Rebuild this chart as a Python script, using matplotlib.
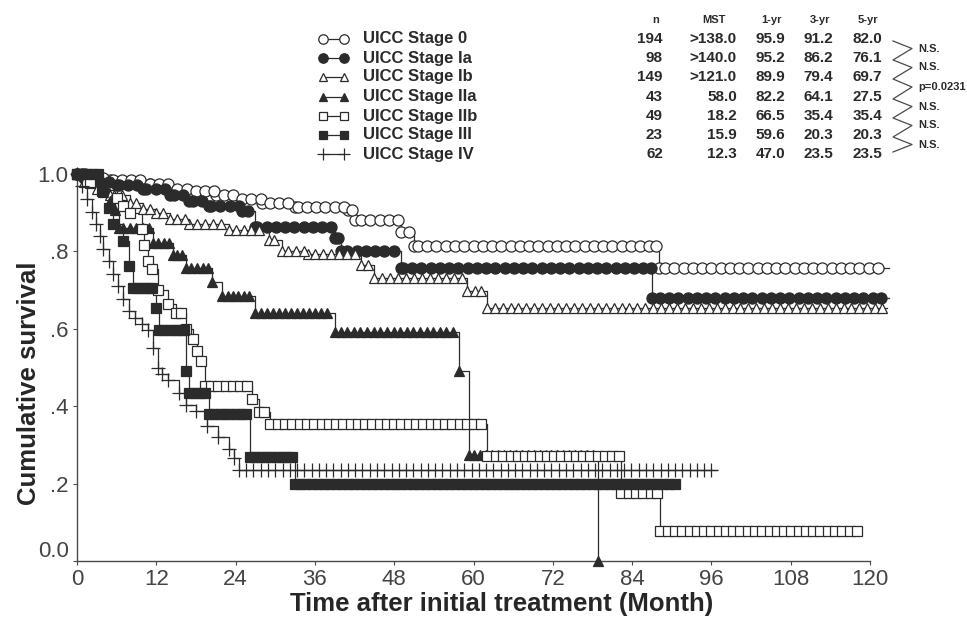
import numpy as np
import matplotlib
matplotlib.use('Agg')
import matplotlib.pyplot as plt
from matplotlib.transforms import ScaledTranslation

plt.rcParams['font.family'] = ['Liberation Sans', 'DejaVu Sans']

# ---- data (months, survival) ----
stages = ['UICC Stage 0', 'UICC Stage Ia', 'UICC Stage Ib', 'UICC Stage IIa',
          'UICC Stage IIb', 'UICC Stage III', 'UICC Stage IV']
n_pat = ['194', '98', '149', '43', '49', '23', '62']
mst = ['>138.0', '>140.0', '>121.0', '58.0', '18.2', '15.9', '12.3']
yr1 = ['95.9', '95.2', '89.9', '82.2', '66.5', '59.6', '47.0']
yr3 = ['91.2', '86.2', '79.4', '64.1', '35.4', '20.3', '23.5']
yr5 = ['82.0', '76.1', '69.7', '27.5', '35.4', '20.3', '23.5']
pvals = ['N.S.', 'N.S.', 'p=0.0231', 'N.S.', 'N.S.', 'N.S.']

# step times / survival after each step, last follow-up time, censor marks
t0 = [0, 2, 5, 11, 14, 17, 21, 24, 28, 33, 41, 42, 49, 51, 88]
s0 = [1.0, 0.99, 0.984, 0.975, 0.962, 0.955, 0.945, 0.935, 0.925, 0.914, 0.906, 0.88, 0.85, 0.815, 0.757]
end0 = 122.9
c0 = [1.2, 2.6, 4.0, 5.4, 6.8, 8.2, 9.6, 11.0, 12.4, 13.8, 15.2, 16.6, 18.0, 19.4, 20.8, 22.2, 23.6,
      25.0, 26.4, 27.8, 29.2, 30.6, 32.0, 33.4, 34.8, 36.2, 37.6, 39.0, 40.4, 41.6, 43.0, 44.4, 45.8,
      47.2, 48.5, 50.2, 51.6, 53.0, 54.4, 55.8, 57.2, 58.6, 60.0, 61.4, 62.8, 64.2, 65.6, 67.0, 68.4,
      69.8, 71.2, 72.6, 74.0, 75.4, 76.8, 78.2, 79.6, 81.0, 82.4, 83.8, 85.2, 86.6, 87.6, 89.0, 90.4,
      91.8, 93.2, 94.6, 96.0, 97.4, 98.8, 100.2, 101.6, 103.0, 104.4, 105.8, 107.2, 108.6, 110.0,
      111.4, 112.8, 114.2, 115.6, 117.0, 118.4, 119.8, 121.2]

t1 = [0, 1, 3, 6, 10, 14, 17, 20, 25, 27, 39, 40, 49, 87]
s1 = [1.0, 0.99, 0.98, 0.972, 0.96, 0.945, 0.93, 0.918, 0.905, 0.862, 0.835, 0.80, 0.757, 0.68]
end1 = 122.9
c1 = [0.7, 2.1, 3.5, 4.9, 6.3, 7.7, 9.1, 10.5, 11.9, 13.3, 14.7, 16.1, 17.5, 18.9, 20.3, 21.7, 23.1,
      24.5, 25.9, 27.3, 28.7, 30.1, 31.5, 32.9, 34.3, 35.7, 37.1, 38.5, 39.5, 40.9, 42.3, 43.7, 45.1,
      46.5, 47.9, 49.3, 50.7, 52.1, 53.5, 54.9, 56.3, 57.7, 59.1, 60.5, 61.9, 63.3, 64.7, 66.1, 67.5,
      68.9, 70.3, 71.7, 73.1, 74.5, 75.9, 77.3, 78.7, 80.1, 81.5, 82.9, 84.3, 85.7, 86.8, 88.2, 89.6,
      91.0, 92.4, 93.8, 95.2, 96.6, 98.0, 99.4, 100.8, 102.2, 103.6, 105.0, 106.4, 107.8, 109.2,
      110.6, 112.0, 113.4, 114.8, 116.2, 117.6, 119.0, 120.4, 121.6]

t2 = [0, 1, 3, 5, 8, 10, 12, 14, 17, 23, 29, 31, 35, 43, 45, 59, 62]
s2 = [1.0, 0.98, 0.96, 0.945, 0.925, 0.91, 0.899, 0.885, 0.87, 0.856, 0.83, 0.80, 0.794, 0.765,
      0.73, 0.697, 0.653]
end2 = 122.6
c2 = [5.6, 6.8, 9.0, 11.0, 13.0, 15.2, 16.4, 18.2, 19.4, 20.6, 21.8, 24.0, 25.2, 26.4, 27.6, 29.8,
      32.0, 33.2, 34.4, 36.0, 37.2, 38.4, 39.6, 40.8, 42.0, 44.0, 46.2, 47.4, 48.6, 49.8, 51.0, 52.2,
      53.4, 54.6, 55.8, 57.0, 58.2, 60.2, 61.2, 63.2, 64.4, 65.6, 66.8, 68.0, 69.2, 70.4, 71.6, 72.8,
      74.0, 75.2, 76.4, 77.6, 78.8, 80.0, 81.2, 82.4, 83.6, 84.8, 86.0, 87.2, 88.4, 89.6, 90.8, 92.0,
      93.2, 94.4, 95.6, 96.8, 98.0, 99.2, 100.4, 101.6, 102.8, 104.0, 105.2, 106.4, 107.6, 108.8,
      110.0, 111.2, 112.4, 113.6, 114.8, 116.0, 117.2, 118.4, 119.6, 120.8, 121.8]

t3 = [0, 2, 4, 5, 5.8, 6.3, 11.5, 14.5, 16.5, 20.5, 22, 27, 39, 57.8, 59.3, 78.9]
s3 = [1.0, 0.977, 0.953, 0.93, 0.907, 0.86, 0.822, 0.79, 0.757, 0.72, 0.684, 0.641, 0.593, 0.49,
      0.275, 0.0]
end3 = 78.9
c3 = [7.0, 8.0, 9.0, 10.0, 10.9, 12.3, 13.1, 13.9, 15.2, 15.9, 17.3, 18.2, 19.0, 19.8, 22.8, 23.6,
      24.4, 25.2, 26.0, 27.9, 28.8, 29.7, 30.6, 31.5, 32.4, 33.3, 34.2, 35.1, 36.0, 36.9, 37.8, 39.9,
      40.9, 41.9, 42.9, 43.9, 44.9, 45.9, 46.9, 47.9, 48.9, 49.9, 50.9, 51.9, 52.9, 53.9, 54.9, 55.9,
      56.9, 60.1, 61.0, 61.9, 62.8, 63.7, 64.6, 65.5, 66.4, 67.3, 68.2, 69.1, 70.0, 70.9, 71.8, 72.7,
      73.6, 74.5, 75.4, 76.3, 77.2, 78.1]

t4 = [0, 2, 4, 6, 7, 8, 9.8, 10.2, 10.8, 11.3, 12.2, 13.7, 15, 16.5, 17.5, 18.2, 18.8, 19.3, 26.5,
      27.5, 29.2, 62, 82.3, 88.2]
s4 = [1.0, 0.98, 0.959, 0.939, 0.918, 0.898, 0.857, 0.816, 0.776, 0.755, 0.70, 0.665, 0.64, 0.60,
      0.574, 0.543, 0.517, 0.452, 0.418, 0.386, 0.354, 0.272, 0.175, 0.078]
end4 = 118.6
c4 = [15.8, 20.3, 21.4, 22.5, 23.6, 24.7, 25.8, 28.3, 30.4, 31.5, 32.6, 33.7, 34.8, 35.9, 37.0,
      38.1, 39.2, 40.3, 41.4, 42.5, 43.6, 44.7, 45.8, 46.9, 48.0, 49.1, 50.2, 51.3, 52.4, 53.5, 54.6,
      55.7, 56.8, 57.9, 59.0, 60.1, 61.2, 63.4, 64.5, 65.6, 66.7, 67.8, 68.9, 70.0, 71.1, 72.2, 73.3,
      74.4, 75.5, 76.6, 77.7, 78.8, 79.9, 81.0, 82.0, 83.5, 84.6, 85.7, 86.8, 87.8, 89.4, 90.5, 91.6,
      92.7, 93.8, 94.9, 96.0, 97.1, 98.2, 99.3, 100.4, 101.5, 102.6, 103.7, 104.8, 105.9, 107.0,
      108.1, 109.2, 110.3, 111.4, 112.5, 113.6, 114.7, 115.8, 116.9, 118.0]

t5 = [0, 3.8, 4.8, 5.5, 7, 7.8, 8.4, 11.9, 12.4, 16.5, 17, 20, 26.2, 33]
s5 = [1.0, 0.957, 0.913, 0.87, 0.826, 0.762, 0.706, 0.653, 0.596, 0.49, 0.435, 0.38, 0.27, 0.20]
end5 = 91.0
c5 = [0.6, 1.5, 2.4, 3.2, 9.2, 10.0, 10.8, 11.4, 13.2, 14.0, 14.8, 15.6, 16.2, 17.8, 18.6, 19.4,
      20.8, 21.6, 22.4, 23.2, 24.0, 24.8, 25.6, 27.0, 27.8, 28.6, 29.4, 30.2, 31.0, 31.8, 32.6, 33.8,
      34.7, 35.6, 36.5, 37.4, 38.3, 39.2, 40.1, 41.0, 41.9, 42.8, 43.7, 44.6, 45.5, 46.4, 47.3, 48.2,
      49.1, 50.0, 50.9, 51.8, 52.7, 53.6, 54.5, 55.4, 56.3, 57.2, 58.1, 59.0, 59.9, 60.8, 61.7, 62.6,
      63.5, 64.4, 65.3, 66.2, 67.1, 68.0, 68.9, 69.8, 70.7, 71.6, 72.5, 73.4, 74.3, 75.2, 76.1, 77.0,
      77.9, 78.8, 79.7, 80.6, 81.5, 82.4, 83.3, 84.2, 85.1, 86.0, 86.9, 87.8, 88.7, 89.6, 90.5]

t6 = [0, 0.8, 1.5, 2.2, 2.8, 3.5, 4.0, 4.8, 5.5, 6.2, 7.0, 7.8, 8.8, 9.8, 10.7, 11.5, 12.3, 12.9,
      13.8, 15.5, 16.5, 18.0, 19.6, 21.4, 23.0, 23.7, 24.5]
s6 = [1.0, 0.968, 0.935, 0.903, 0.871, 0.839, 0.806, 0.774, 0.742, 0.71, 0.677, 0.645, 0.629,
      0.613, 0.597, 0.55, 0.50, 0.484, 0.468, 0.435, 0.403, 0.387, 0.348, 0.32, 0.29, 0.266, 0.235]
end6 = 96.8
c6 = [25.6, 26.7, 27.8, 28.9, 30.0, 31.1, 32.2, 33.3, 34.4, 35.5, 36.6, 37.7, 38.8, 39.9, 41.0,
      42.1, 43.2, 44.3, 45.4, 46.5, 47.6, 48.7, 49.8, 50.9, 52.0, 53.1, 54.2, 55.3, 56.4, 57.5, 58.6,
      59.7, 60.8, 61.9, 63.0, 64.1, 65.2, 66.3, 67.4, 68.5, 69.6, 70.7, 71.8, 72.9, 74.0, 75.1, 76.2,
      77.3, 78.4, 79.5, 80.6, 81.7, 82.8, 83.9, 85.0, 86.1, 87.2, 88.3, 89.4, 90.5, 91.6, 92.7, 93.8,
      94.9, 96.0]

INK = '#2b2b2b'
GREY = '#4a4a4a'

# marker, face colour, size for each stage
styles = [('o', 'white', 8.0), ('o', INK, 8.0), ('^', 'white', 7.0), ('^', INK, 7.0),
          ('s', 'white', 6.6), ('s', INK, 6.6), ('+', 'none', 10.0)]
curves = [(t0, s0, end0, c0), (t1, s1, end1, c1), (t2, s2, end2, c2), (t3, s3, end3, c3),
          (t4, s4, end4, c4), (t5, s5, end5, c5), (t6, s6, end6, c6)]


def draw_km(ax, t, s, t_end, cens, marker, face, ms):
    t = np.asarray(t, float)
    s = np.asarray(s, float)
    xs = np.append(t, t_end)
    ys = np.append(s, s[-1])
    ax.step(xs, ys, where='post', color=INK, lw=0.9, clip_on=False, zorder=2)
    cens = np.asarray(cens, float)
    idx = np.searchsorted(t, cens, side='right') - 1
    mx = np.concatenate([t, cens])
    my = np.concatenate([s, s[idx]])
    ax.plot(mx, my, ls='none', marker=marker, mfc=face, mec=INK, ms=ms, mew=0.9,
            clip_on=False, zorder=3)


fig = plt.figure(figsize=(9.67, 6.24), dpi=100)
ax = fig.add_axes([77 / 967, 1 - 561 / 624, (870 - 77) / 967, (561 - 174) / 624])

for (t, s, e, c), (m, f, ms) in zip(curves, styles):
    draw_km(ax, t, s, e, c, m, f, ms)

ax.set_xlim(0, 120)
ax.set_ylim(0, 1.0)
ax.set_xticks(range(0, 121, 12))
ax.set_yticks([0, 0.2, 0.4, 0.6, 0.8, 1.0])
ax.set_yticklabels(['0.0', '.2', '.4', '.6', '.8', '1.0'])
for side in ['top', 'right']:
    ax.spines[side].set_visible(False)
for side in ['left', 'bottom']:
    ax.spines[side].set_color(GREY)
    ax.spines[side].set_linewidth(1.0)
ax.tick_params(axis='both', direction='out', length=3, width=0.8, color=GREY,
               labelsize=16, labelcolor='#444444', pad=3)
# the scanned "0.0" label sits a little above the axis line
ax.get_yticklabels()[0].set_transform(
    ax.get_yticklabels()[0].get_transform() + ScaledTranslation(0, 0.12, fig.dpi_scale_trans))
ax.set_xlabel('Time after initial treatment (Month)', fontsize=18.5, fontweight='bold',
              color='#262626', va='center')
ax.set_ylabel('Cumulative survival', fontsize=18.5, fontweight='bold', color='#262626',
              va='center')
ax.xaxis.set_label_coords(0.535, -0.112)
ax.yaxis.set_label_coords(-0.06, 0.46)

# ---- legend / summary table, laid out in pixel coordinates ----
tab = fig.add_axes([0, 0, 1, 1])
tab.set_xlim(0, 967)
tab.set_ylim(624, 0)
tab.axis('off')
tab.patch.set_visible(False)

row_y = [39, 58, 77, 97, 116, 135, 154]
hdr_y = 20
txt = dict(color='#2a2a2a', fontweight='bold', va='center')
for lab, x in zip(['n', 'MST', '1-yr', '3-yr', '5-yr'], [656, 714, 772, 820, 868]):
    tab.text(x, hdr_y, lab, fontsize=8, ha='center', **txt)

for i, y in enumerate(row_y):
    m, f, ms = styles[i]
    tab.plot([323, 344], [y, y], color=INK, lw=0.9)
    tab.plot([323, 344], [y, y], ls='none', marker=m, mfc=f, mec=INK, ms=ms * 0.85, mew=0.9)
    tab.text(363, y, stages[i], fontsize=12, ha='left', **txt)
    tab.text(663, y, n_pat[i], fontsize=11, ha='right', **txt)
    tab.text(737, y, mst[i], fontsize=11, ha='right', **txt)
    tab.text(785, y, yr1[i], fontsize=11, ha='right', **txt)
    tab.text(833, y, yr3[i], fontsize=11, ha='right', **txt)
    tab.text(882, y, yr5[i], fontsize=11, ha='right', **txt)

# zig-zag bracket joining neighbouring rows, with the log-rank results
zx, zy = [], []
for i in range(len(row_y) - 1):
    zx += [893, 912]
    zy += [row_y[i] + 2, (row_y[i] + row_y[i + 1]) / 2]
zx.append(893)
zy.append(row_y[-1] - 2)
tab.plot(zx, zy, color=GREY, lw=0.9)
for i, p in enumerate(pvals):
    tab.text(918, (row_y[i] + row_y[i + 1]) / 2, p, fontsize=8, ha='left', **txt)

fig.savefig('out.png', dpi=100)
